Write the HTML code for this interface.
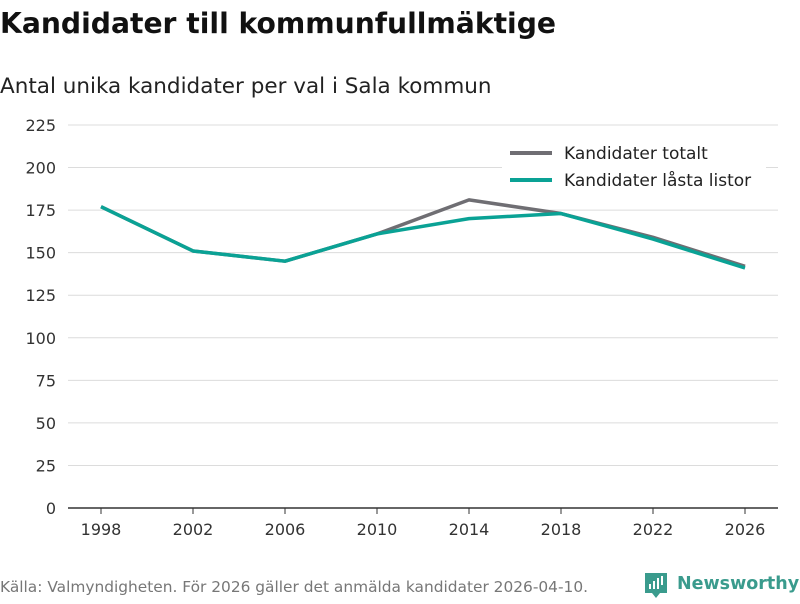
<!DOCTYPE html>
<html><head><meta charset="utf-8"><style>
body{margin:0;background:#fff;width:800px;height:600px;overflow:hidden;font-family:"DejaVu Sans","Liberation Sans",sans-serif;}
</style></head><body>
<svg width="800" height="600" xmlns="http://www.w3.org/2000/svg">
<text x="0" y="33" font-size="28.2" font-weight="bold" fill="#111">Kandidater till kommunfullmäktige</text>
<text x="0" y="93" font-size="21.5" fill="#222">Antal unika kandidater per val i Sala kommun</text>
<g id="grid"></g>
<g id="xaxis"></g>
<g id="lines"></g>
<g>
<rect x="502" y="140" width="264" height="56" fill="#fff"/>
<line x1="510" y1="153" x2="552" y2="153" stroke="#6f6e73" stroke-width="4"/>
<text x="564" y="159" font-size="17" fill="#222">Kandidater totalt</text>
<line x1="510" y1="180" x2="552" y2="180" stroke="#0aa295" stroke-width="4"/>
<text x="564" y="186" font-size="17" fill="#222">Kandidater låsta listor</text>
</g>
<text x="0" y="592" font-size="15.4" fill="#777">Källa: Valmyndigheten. För 2026 gäller det anmälda kandidater 2026-04-10.</text>
<g>
<path d="M645 573 h22 v20 h-7 l-4 5 l-4 -5 h-7 z" fill="#3a9b8d"/>
<rect x="649" y="584" width="2" height="5" fill="#fff"/><rect x="653" y="581" width="2" height="8" fill="#fff"/><rect x="657" y="578" width="2" height="11" fill="#fff"/><rect x="661" y="576" width="2" height="9" fill="#fff"/>
<text x="677" y="589" font-size="17.5" font-weight="bold" fill="#3a9b8d">Newsworthy</text>
</g>
</svg>
<script>
const years=[1998,2002,2006,2010,2014,2018,2022,2026];
const totalt=[177,151,145,161,181,173,159,142];
const lasta=[177,151,145,161,170,173,158,141];
const yTicks=[0,25,50,75,100,125,150,175,200,225];
const NS="http://www.w3.org/2000/svg";
const x=v=>101+(v-1998)*23;
const y=v=>508-v*(383/225);
function mk(t,a,p){const e=document.createElementNS(NS,t);for(const k in a)e.setAttribute(k,a[k]);p.appendChild(e);return e;}
const g=document.getElementById('grid');
yTicks.forEach(t=>{
 const l=mk('line',{x1:68,x2:778,y1:y(t),y2:y(t),stroke:t===0?'#333':'#dcdcdc','stroke-width':t===0?1.5:1},g);
 
 
 const tx=mk('text',{x:56,y:y(t)+6,'text-anchor':'end','font-size':16,fill:'#333'},g);
 tx.textContent=t;
 
 
});
const xa=document.getElementById('xaxis');
years.forEach(v=>{
 const l=mk('line',{x1:x(v),x2:x(v),y1:508,y2:514,stroke:'#333'},xa);
 
 
 const tx=mk('text',{x:x(v),y:535,'text-anchor':'middle','font-size':16,fill:'#333'},xa);
 tx.textContent=v;
 
 
});
const lg=document.getElementById('lines');
function line(data,color,name){
 const p=mk('polyline',{points:data.map((d,i)=>x(years[i])+','+y(d)).join(' '),fill:'none',stroke:color,'stroke-width':3.5,'stroke-linejoin':'round'},lg);
 
 
}
line(totalt,'#6f6e73','line-totalt');
line(lasta,'#0aa295','line-lasta');
</script>
</body></html>
